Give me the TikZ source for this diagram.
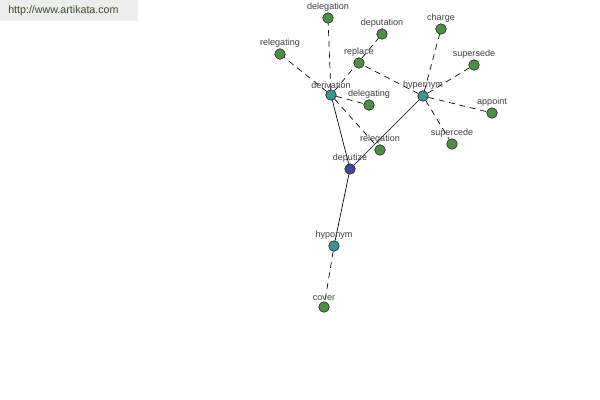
\documentclass[tikz,border=0pt]{standalone}
\usepackage{fontspec}
\setmainfont{Liberation Sans}
\definecolor{urlc}{HTML}{3A4A2E}
\definecolor{ndgreen}{HTML}{4E8F48}
\definecolor{ndteal}{HTML}{3F9393}
\definecolor{ndblue}{HTML}{45459A}
\begin{document}
\begin{tikzpicture}[x=0.75pt,y=-0.75pt,
  nd/.style={circle,draw=black!80,line width=0.4pt,minimum size=7.8pt,inner sep=0pt},
  gr/.style={nd,fill=ndgreen},
  tl/.style={nd,fill=ndteal},
  bl/.style={nd,fill=ndblue},
  lb/.style={font=\fontsize{6.8}{7.5}\selectfont,text=black!75,inner sep=0pt},
  solidline/.style={draw=black,line width=0.5pt},
  dashline/.style={draw=black,line width=0.5pt,dash pattern=on 4.5pt off 3.5pt}]
\useasboundingbox (0,0) rectangle (600,400);
\fill[black!7] (0,0) rectangle (138,21);
\node[font=\fontsize{8}{9}\selectfont,text=urlc,anchor=west,inner sep=0pt] (url) at (8,11) {http://www.artikata.com};
% nodes
\node[gr] (delegation) at (328,18) {};
\node[gr] (deputation) at (382,34) {};
\node[gr] (charge) at (441,29) {};
\node[gr] (relegating) at (280,54) {};
\node[gr] (replace) at (359,63) {};
\node[gr] (supersede) at (474,65) {};
\node[tl] (derivation) at (331,95) {};
\node[tl] (hypernym) at (423,96) {};
\node[gr] (delegating) at (369,105) {};
\node[gr] (appoint) at (492,113) {};
\node[gr] (relegation) at (380,150) {};
\node[gr] (supercede) at (452,144) {};
\node[bl] (deputize) at (350,169) {};
\node[tl] (hyponym) at (334,246) {};
\node[gr] (cover) at (324,307) {};
% edges
\draw[solidline] (derivation) -- (deputize);
\draw[solidline] (hypernym) -- (deputize);
\draw[solidline] (deputize) -- (hyponym);
\draw[dashline] (hyponym) -- (cover);
\draw[dashline] (derivation) -- (delegation);
\draw[dashline] (derivation) -- (relegating);
\draw[dashline] (derivation) -- (deputation);
\draw[dashline] (derivation) -- (delegating);
\draw[dashline] (derivation) -- (relegation);
\draw[dashline] (hypernym) -- (replace);
\draw[dashline] (hypernym) -- (charge);
\draw[dashline] (hypernym) -- (supersede);
\draw[dashline] (hypernym) -- (appoint);
\draw[dashline] (hypernym) -- (supercede);
% redraw nodes on top
\foreach \n/\s in {delegation/gr,deputation/gr,charge/gr,relegating/gr,replace/gr,supersede/gr,derivation/tl,hypernym/tl,delegating/gr,appoint/gr,relegation/gr,supercede/gr,deputize/bl,hyponym/tl,cover/gr}
  \node[\s] at (\n) {};
% labels
\foreach \n/\t in {delegation/delegation,deputation/deputation,charge/charge,relegating/relegating,replace/replace,supersede/supersede,derivation/derivation,hypernym/hypernym,delegating/delegating,appoint/appoint,relegation/relegation,supercede/supercede,deputize/deputize,hyponym/hyponym,cover/cover}
  \node[lb,anchor=south] (l-\n) at ([yshift=4.6pt]\n.center) {\t};
\end{tikzpicture}
\end{document}
